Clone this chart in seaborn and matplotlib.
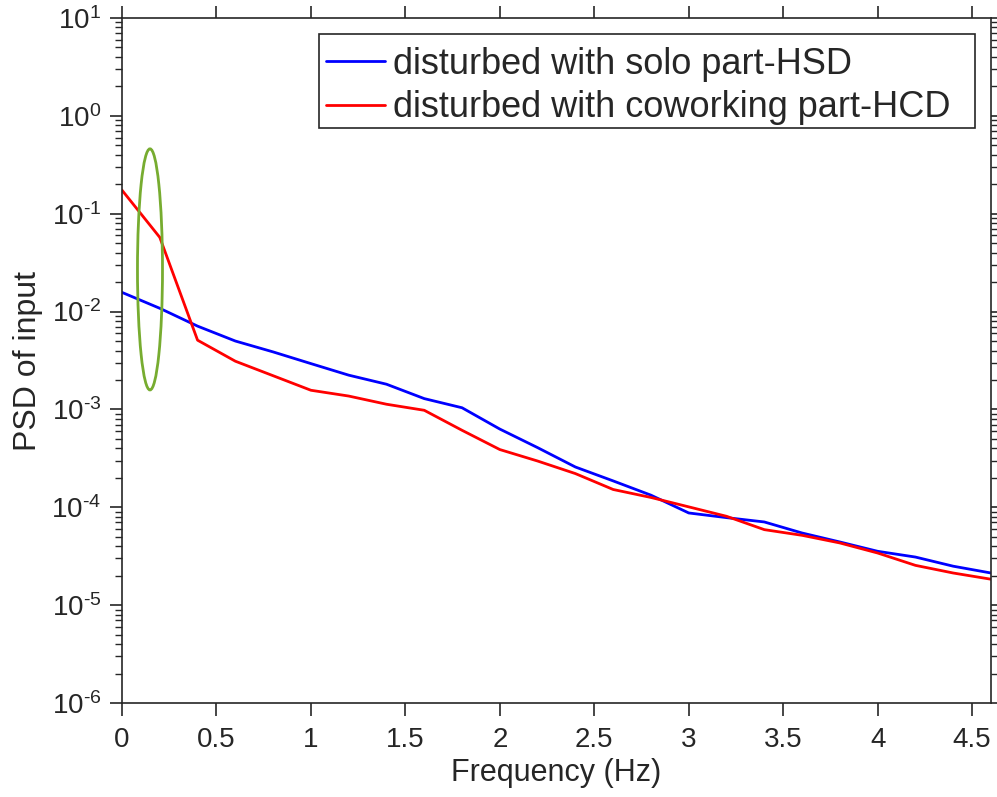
import numpy as np
import pandas as pd
import matplotlib
matplotlib.use("Agg")
import matplotlib.pyplot as plt
import seaborn as sns
from matplotlib.patches import Ellipse, Rectangle
from matplotlib.ticker import LogLocator, FixedLocator, FuncFormatter

freq = [0.0, 0.2, 0.4, 0.6, 0.8, 1.0, 1.2, 1.4, 1.6, 1.8, 2.0, 2.2, 2.4,
        2.6, 2.8, 3.0, 3.2, 3.4, 3.6, 3.8, 4.0, 4.2, 4.4, 4.6]
psd_solo = [0.0157, 0.0108, 0.0071, 0.0050, 0.00387, 0.00294, 0.00224,
            0.00181, 0.00129, 0.00104, 0.00063, 0.000407, 0.000258,
            0.000186, 0.000133, 8.75e-5, 7.84e-5, 7.08e-5, 5.46e-5,
            4.42e-5, 3.55e-5, 3.10e-5, 2.50e-5, 2.13e-5]
psd_cowork = [0.174, 0.0573, 0.0051, 0.00311, 0.00221, 0.00157, 0.00137,
              0.00113, 0.00098, 0.000612, 0.000389, 0.000297, 0.000221,
              0.000152, 0.000126, 0.000101, 8.09e-5, 5.91e-5, 5.17e-5,
              4.32e-5, 3.41e-5, 2.55e-5, 2.13e-5, 1.84e-5]
series_names = ["disturbed with solo part-HSD",
                "disturbed with coworking part-HCD"]
x_ticks = [0, 0.5, 1, 1.5, 2, 2.5, 3, 3.5, 4, 4.5]
x_ticklabels = ["0", "0.5", "1", "1.5", "2", "2.5", "3", "3.5", "4", "4.5"]

df = pd.DataFrame({
    "freq": freq * 2,
    "psd": psd_solo + psd_cowork,
    "series": [series_names[0]] * len(freq) + [series_names[1]] * len(freq),
})

sns.set_theme(style="white")
plt.rcParams["font.family"] = ["Liberation Sans", "DejaVu Sans"]
plt.rcParams["mathtext.fontset"] = "custom"
plt.rcParams["mathtext.rm"] = "Liberation Sans"
plt.rcParams["mathtext.it"] = "Liberation Sans:italic"
plt.rcParams["mathtext.bf"] = "Liberation Sans:bold"

W, H = 997, 797
fig = plt.figure(figsize=(W / 100, H / 100), dpi=100)
fig.patch.set_facecolor("white")
ax = fig.add_axes([122 / W, 1 - 703 / H, (991 - 122) / W, (703 - 18) / H])

sns.lineplot(data=df, x="freq", y="psd", hue="series",
             palette={series_names[0]: "#0000FF", series_names[1]: "#FF0000"},
             linewidth=2.0, ax=ax, legend=True)

ax.set_yscale("log")
ax.set_xlim(0, 4.6)
ax.set_ylim(1e-6, 10)
ax.xaxis.set_major_locator(FixedLocator(x_ticks))
ax.set_xticklabels(x_ticklabels)
ax.yaxis.set_major_locator(LogLocator(base=10, numticks=20))
ax.yaxis.set_minor_locator(LogLocator(base=10, subs=np.arange(2, 10), numticks=20))


def log_fmt(v, pos):
    e = int(round(np.log10(v)))
    if e < 0:
        return r"$\mathregular{10^{\text{-}%d}}$" % (-e)
    return r"$\mathregular{10^{%d}}$" % e


ax.yaxis.set_major_formatter(FuncFormatter(log_fmt))

ax.set_xlabel("Frequency (Hz)", fontsize=22, color="#262626", labelpad=4)
ax.set_ylabel("PSD of input", fontsize=23, color="#262626", labelpad=6)

for side in ["left", "right", "top", "bottom"]:
    ax.spines[side].set_visible(True)
    ax.spines[side].set_color("#262626")
    ax.spines[side].set_linewidth(1.2)

ax.tick_params(axis="both", which="both", direction="out",
               left=True, bottom=True, top=True, right=True,
               colors="#262626", labelsize=20)
ax.tick_params(axis="both", which="major", length=9, width=1.2, pad=8)
ax.tick_params(axis="y", which="major", pad=6)
ax.tick_params(axis="y", which="minor", length=5, width=1.0)
ax.tick_params(axis="x", which="minor", bottom=False, top=False)
ax.tick_params(axis="y", which="both", labelright=False)
ax.tick_params(axis="x", which="both", labeltop=False)

ell = Ellipse(xy=(0.0322, 0.633), width=0.0288, height=0.352,
              transform=ax.transAxes, fill=False, edgecolor="#77AC30",
              linewidth=2.0, zorder=5)
ax.add_patch(ell)

handles, labels = ax.get_legend_handles_labels()
leg = ax.legend(handles, labels, loc="upper left",
                bbox_to_anchor=(319 / W, 1 - 40 / H),
                bbox_transform=fig.transFigure, borderaxespad=0,
                fontsize=26, frameon=False,
                handlelength=1.65, handletextpad=0.22,
                labelspacing=0.24, borderpad=0.18)
for line in leg.get_lines():
    line.set_linewidth(2.0)

frame = Rectangle((319 / W, 1 - 128 / H), (975 - 319) / W, (128 - 34) / H,
                  transform=fig.transFigure, fill=True, facecolor="white",
                  edgecolor="#262626", linewidth=1.2, zorder=4)
ax.add_patch(frame)
frame.set_clip_on(False)
leg.set_zorder(6)

fig.savefig("out.png", dpi=100, facecolor="white")
